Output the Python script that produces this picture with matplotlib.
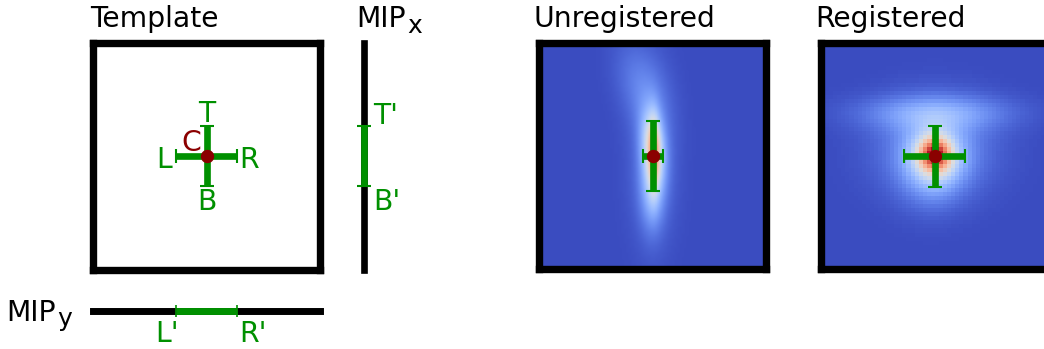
import numpy as np
import matplotlib
matplotlib.use("Agg")
import matplotlib.pyplot as plt

W, H = 1044, 349
GRID = 64

# marker extents in voxel units (image rows grow downward)
center = [32, 32]
template_lr = [23.5, 40.5]
template_tb = [23.5, 40.5]
unreg_lr = [29.3, 34.9]
unreg_tb = [22.2, 42.0]
reg_lr = [23.4, 40.5]
reg_tb = [23.6, 40.7]

# intensity blobs of the unregistered MIP: centre x/y, spread x/y, height, tilt (deg)
unreg_cx = [32.3, 32.0, 31.8, 28.5, 32.0]
unreg_cy = [32.0, 29.0, 41.0, 12.0, 33.0]
unreg_sx = [1.0, 2.2, 2.3, 4.5, 4.5]
unreg_sy = [7.5, 7.0, 8.0, 9.0, 16.0]
unreg_amp = [0.26, 0.42, 0.24, 0.11, 0.10]
unreg_tilt = [0, -4, 0, -15, 0]

# intensity blobs of the registered MIP
reg_cx = [32.0, 32.0, 32.0, 32.0, 31.0]
reg_cy = [31.5, 32.5, 30.0, 20.0, 40.0]
reg_sx = [3.0, 5.2, 11.0, 14.0, 6.0]
reg_sy = [3.0, 5.6, 9.0, 3.5, 6.0]
reg_amp = [0.48, 0.40, 0.18, 0.20, 0.08]
reg_tilt = [0, 0, 0, 0, 0]

GREEN = "#009000"
DARKRED = "#8b0000"
FS = 20.3


def blob_image(cx, cy, sx, sy, amp, tilt, n=56):
    coords = (np.arange(n) + 0.5) * GRID / n
    xx, yy = np.meshgrid(coords, coords)
    img = np.zeros_like(xx)
    for x, y, a, b, h, t in zip(cx, cy, sx, sy, amp, tilt):
        t = np.deg2rad(t)
        dx, dy = xx - x, yy - y
        u = dx * np.cos(t) + dy * np.sin(t)
        v = -dx * np.sin(t) + dy * np.cos(t)
        img += h * np.exp(-0.5 * ((u / a) ** 2 + (v / b) ** 2))
    return img


def px_axes(fig, x0, y0, x1, y1, **kw):
    return fig.add_axes([x0 / W, 1 - y1 / H, (x1 - x0) / W, (y1 - y0) / H], **kw)


def boxed(ax):
    ax.set_xlim(0, GRID)
    ax.set_ylim(GRID, 0)
    ax.set_xticks([])
    ax.set_yticks([])
    for s in ax.spines.values():
        s.set_linewidth(5.3)
        s.set_color("black")
        s.set_capstyle("projecting")


def cross(ax, lr, tb, elw=4.8):
    cx, cy = center
    ax.errorbar(cx, cy, xerr=[[cx - lr[0]], [lr[1] - cx]],
                yerr=[[cy - tb[0]], [tb[1] - cy]], fmt="none",
                ecolor=GREEN, elinewidth=elw, capsize=5, capthick=1.5, zorder=4)
    ax.plot(cx, cy, "o", color=DARKRED, ms=8.6, zorder=5)


def label(ax, txt, xy, off, ha, color=GREEN):
    ax.annotate(txt, xy=xy, xytext=(off[0] * 0.72, off[1] * 0.72),
                textcoords="offset points", ha=ha, va="baseline",
                fontsize=FS, color=color, annotation_clip=False)


fig = plt.figure(figsize=(W / 100, H / 100), dpi=100)

# template panel
ax_t = px_axes(fig, 93, 43, 320.3, 269.7)
boxed(ax_t)
cross(ax_t, template_lr, template_tb)
cx, cy = center
label(ax_t, "T", (cx, template_tb[0]), (0, 4), "center")
label(ax_t, "B", (cx, template_tb[1]), (0, -24), "center")
label(ax_t, "L", (template_lr[0], cy), (-4, -12), "right")
label(ax_t, "R", (template_lr[1], cy), (2, -12), "left")
label(ax_t, "C", (cx, cy), (-15, 5), "center", color=DARKRED)

# MIP along x (vertical profile)
ax_x = px_axes(fig, 354, 43, 374, 269.7, sharey=ax_t)
ax_x.set_xlim(-1, 1)
ax_x.axis("off")
ax_x.plot([0, 0], [0, GRID], color="black", lw=4.8, solid_capstyle="projecting",
          clip_on=False)
ax_x.errorbar(0, cy, yerr=[[cy - template_tb[0]], [template_tb[1] - cy]],
              fmt="none", ecolor=GREEN, elinewidth=4.8, capsize=5, capthick=1.5)
label(ax_x, "T'", (0, template_tb[0]), (9, 2), "left")
label(ax_x, "B'", (0, template_tb[1]), (9, -24), "left")

# MIP along y (horizontal profile)
ax_y = px_axes(fig, 93, 301, 320.3, 321, sharex=ax_t)
ax_y.set_ylim(-1, 1)
ax_y.axis("off")
ax_y.plot([0, GRID], [0, 0], color="black", lw=5.0, solid_capstyle="projecting",
          clip_on=False)
ax_y.errorbar(cx, 0, xerr=[[cx - template_lr[0]], [template_lr[1] - cx]],
              fmt="none", ecolor=GREEN, elinewidth=5.0, capsize=4.5, capthick=1.2)
label(ax_y, "L'", (template_lr[0], 0), (2, -30.5), "right")
label(ax_y, "R'", (template_lr[1], 0), (2, -30.5), "left")

# unregistered and registered MIPs
ax_u = px_axes(fig, 539, 42.5, 766.3, 269.2)
ax_u.imshow(blob_image(unreg_cx, unreg_cy, unreg_sx, unreg_sy, unreg_amp, unreg_tilt, n=96),
            cmap="coolwarm", vmin=0, vmax=1, extent=[0, GRID, GRID, 0],
            interpolation="bilinear", aspect="auto")
boxed(ax_u)
cross(ax_u, unreg_lr, unreg_tb)

ax_r = px_axes(fig, 821, 42.5, 1048.3, 269.2)
ax_r.imshow(blob_image(reg_cx, reg_cy, reg_sx, reg_sy, reg_amp, reg_tilt),
            cmap="coolwarm", vmin=0, vmax=1, extent=[0, GRID, GRID, 0],
            interpolation="nearest", aspect="auto")
boxed(ax_r)
cross(ax_r, reg_lr, reg_tb)

# titles
def ftext(x, y, s, size=FS):
    fig.text(x / W, 1 - y / H, s, fontsize=size, va="baseline", ha="left")

ftext(90, 27.3, "Template")
ftext(356.5, 27.3, "MIP")
ftext(407, 33, "x", size=18)
ftext(533.5, 27.3, "Unregistered")
ftext(815, 27.3, "Registered")
ftext(6.5, 321, "MIP")
ftext(57, 326, "y", size=18)

fig.savefig("out.png", dpi=100)
